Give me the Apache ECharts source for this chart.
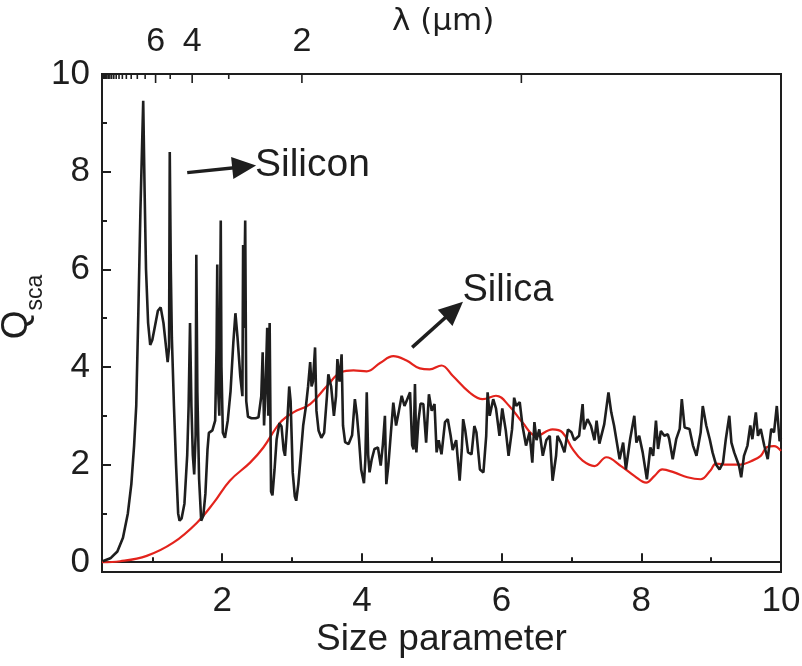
<!DOCTYPE html>
<html lang="en">
<head>
  <meta charset="UTF-8">
  <title>Qsca vs size parameter</title>
  <style>
    html, body { margin: 0; padding: 0; background: #fff; }
    #chart { width: 802px; height: 666px; }
  </style>
</head>
<body>
  <div id="chart"></div>
  <script src="https://cdn.jsdelivr.net/npm/echarts@6/dist/echarts.min.js"></script>
  <script>
    // silicon sphere
    const siliconX = [
      0.29, 0.40, 0.50, 0.58, 0.65, 0.70, 0.74, 0.77, 0.80, 0.83, 0.87, 0.89, 0.91, 0.94, 0.97,
      1.00, 1.04, 1.08, 1.12, 1.16, 1.19, 1.22, 1.24, 1.25, 1.265, 1.28, 1.31, 1.34, 1.37, 1.39,
      1.42, 1.46, 1.50, 1.52, 1.54, 1.56, 1.58, 1.60, 1.62, 1.63, 1.645, 1.67, 1.70, 1.73, 1.76,
      1.79, 1.81, 1.86, 1.90, 1.92, 1.93, 1.94, 1.96, 1.98, 1.99, 2.01, 2.04, 2.08, 2.12, 2.16,
      2.19, 2.22, 2.26, 2.29, 2.30, 2.31, 2.33, 2.345, 2.37, 2.42, 2.48, 2.52, 2.56, 2.58, 2.60,
      2.62, 2.645, 2.66, 2.68, 2.70, 2.72, 2.75, 2.78, 2.82, 2.85, 2.88, 2.90, 2.93, 2.96, 2.98,
      3.01, 3.04, 3.06, 3.09, 3.12, 3.16, 3.20, 3.23, 3.26, 3.28, 3.30, 3.33, 3.35, 3.38, 3.42,
      3.46, 3.50, 3.52, 3.56, 3.60, 3.63, 3.65, 3.68, 3.71, 3.73, 3.76, 3.81, 3.86, 3.90, 3.93,
      3.96, 3.99, 4.03, 4.05, 4.07, 4.09, 4.11, 4.14, 4.18, 4.23, 4.27, 4.30, 4.33, 4.35, 4.38,
      4.41, 4.45, 4.49, 4.53, 4.57, 4.61, 4.65, 4.69, 4.72, 4.74, 4.76, 4.78, 4.81, 4.84, 4.88,
      4.92, 4.96, 5.00, 5.04, 5.07, 5.10, 5.14, 5.19, 5.23, 5.27, 5.30, 5.35, 5.38, 5.40, 5.43,
      5.45, 5.48, 5.52, 5.57, 5.61, 5.64, 5.69, 5.74, 5.78, 5.80, 5.83, 5.88, 5.92, 5.97, 6.01,
      6.06, 6.10, 6.15, 6.18, 6.21, 6.26, 6.30, 6.35, 6.40, 6.44, 6.47, 6.50, 6.54, 6.59, 6.64,
      6.69, 6.73, 6.78, 6.80, 6.85, 6.90, 6.95, 7.00, 7.04, 7.11, 7.16, 7.18, 7.23, 7.28, 7.33,
      7.36, 7.40, 7.47, 7.53, 7.57, 7.61, 7.69, 7.74, 7.78, 7.84, 7.90, 7.93, 7.97, 8.02, 8.08,
      8.13, 8.17, 8.21, 8.24, 8.28, 8.33, 8.38, 8.40, 8.45, 8.50, 8.55, 8.58, 8.62, 8.69, 8.74,
      8.79, 8.85, 8.88, 8.93, 8.98, 9.02, 9.07, 9.12, 9.17, 9.21, 9.26, 9.29, 9.33, 9.40, 9.43,
      9.47, 9.52, 9.56, 9.59, 9.64, 9.67, 9.71, 9.76, 9.81, 9.86, 9.90, 9.94, 9.98, 10.0
    ];
    const siliconQ = [
      0.02, 0.08, 0.22, 0.50, 1.00, 1.60, 2.40, 3.20, 5.10, 7.20, 9.45, 7.60, 6.00, 4.90, 4.45,
      4.55, 4.85, 5.15, 5.22, 4.90, 4.50, 4.10, 4.40, 8.40, 6.00, 4.60, 3.20, 2.00, 1.00, 0.85,
      0.90, 1.20, 2.20, 3.20, 4.90, 3.20, 2.20, 1.80, 2.60, 6.30, 3.50, 1.70, 0.85, 0.95, 1.40,
      2.30, 2.65, 2.70, 2.90, 4.40, 6.10, 3.60, 3.00, 7.00, 4.00, 2.65, 2.55, 2.90, 3.50, 4.50,
      5.10, 4.60, 3.80, 3.40, 6.50, 4.80, 7.00, 3.30, 2.98, 2.95, 2.95, 2.97, 3.40, 4.30, 2.80,
      3.50, 4.80, 3.00, 4.90, 1.45, 1.37, 1.90, 2.52, 2.85, 2.78, 2.30, 2.18, 2.80, 3.60, 3.30,
      1.84, 1.35, 1.26, 1.60, 2.10, 2.80, 3.20, 3.60, 4.10, 3.60, 3.70, 4.40, 3.10, 2.70, 2.55,
      2.65, 3.40, 3.85, 3.60, 3.00, 3.40, 4.16, 3.70, 4.26, 2.80, 2.46, 2.42, 2.60, 3.34, 3.00,
      2.50, 1.90, 1.62, 2.10, 3.48, 2.20, 1.84, 2.10, 2.32, 2.35, 1.98, 2.40, 3.00, 1.60, 2.00,
      2.55, 3.27, 2.80, 3.10, 3.41, 3.20, 3.34, 3.48, 2.40, 2.31, 3.65, 2.25, 2.90, 3.25, 3.24,
      2.45, 3.44, 3.10, 3.24, 2.25, 2.50, 2.21, 2.87, 2.93, 2.60, 2.30, 2.50, 2.00, 1.67, 2.30,
      2.93, 2.70, 2.25, 2.21, 2.79, 2.66, 1.90, 1.84, 2.59, 3.48, 3.00, 3.34, 3.15, 2.59, 3.15,
      2.70, 2.18, 2.72, 3.37, 3.20, 3.28, 2.79, 2.39, 2.66, 2.04, 2.87, 2.50, 2.72, 2.18, 2.50,
      2.59, 1.67, 2.18, 2.59, 2.45, 2.25, 2.72, 2.66, 2.50, 2.59, 3.24, 2.72, 2.93, 2.79, 2.50,
      2.90, 2.43, 2.83, 3.48, 3.07, 2.80, 2.11, 2.45, 1.90, 2.52, 3.00, 2.45, 2.59, 2.25, 1.70,
      2.35, 2.18, 2.90, 2.32, 2.69, 2.59, 2.62, 2.52, 2.11, 2.52, 2.73, 3.34, 2.76, 2.73, 2.39,
      2.18, 2.66, 3.20, 2.80, 2.52, 2.25, 2.00, 1.90, 2.04, 2.52, 3.00, 2.45, 2.25, 1.97, 1.74,
      2.18, 2.39, 2.80, 2.52, 3.07, 2.59, 2.73, 2.39, 2.11, 2.73, 2.66, 3.20, 2.48, 2.55
    ];

    // silica sphere
    const silicaX = [
      0.28, 0.54, 0.92, 1.30, 1.64, 1.88, 2.11, 2.40, 2.59, 2.83, 3.02, 3.26, 3.50, 3.70, 3.88,
      4.07, 4.26, 4.45, 4.64, 4.83, 4.97, 5.14, 5.30, 5.54, 5.73, 5.92, 6.11, 6.30, 6.50, 6.73,
      6.87, 7.02, 7.16, 7.33, 7.50, 7.71, 7.90, 8.07, 8.19, 8.30, 8.47, 8.66, 8.85, 8.99, 9.07,
      9.23, 9.42, 9.57, 9.71, 9.80, 9.90, 10.0
    ];
    const silicaQ = [
      0.00, 0.02, 0.13, 0.40, 0.81, 1.22, 1.67, 2.04, 2.35, 2.86, 3.07, 3.24, 3.61, 3.89, 3.93,
      3.91, 4.08, 4.22, 4.13, 3.97, 3.95, 4.03, 3.82, 3.48, 3.34, 3.41, 3.20, 2.86, 2.59, 2.72,
      2.66, 2.31, 2.08, 1.97, 2.15, 1.97, 1.77, 1.63, 1.77, 1.90, 1.84, 1.74, 1.70, 1.88, 2.02,
      2.00, 2.00, 2.07, 2.18, 2.36, 2.38, 2.28
    ];

    // top axis: wavelength in um, size parameter = 2*pi/lambda
    const lambdaTicks = [1, 2, 3, 4, 5, 6, 7, 8, 9, 10, 11, 12, 13, 14, 15, 16, 17, 18, 19, 20, 21, 22];
    const lambdaLabels = [2, 4, 6];

    const FONT = '"Liberation Sans", Arial, sans-serif';
    const INK = '#1e1e1e';

    const zip = (xs, ys) => xs.map((x, i) => [x, ys[i]]);

    const chart = echarts.init(document.getElementById('chart'));

    const arrowLine = (from, to) => ({
      silent: true, symbol: ['none', 'triangle'], symbolSize: [22, 24],
      label: { show: false },
      lineStyle: { color: INK, width: 3.5, type: 'solid', opacity: 1 },
      itemStyle: { color: INK },
      data: [[{ coord: from }, { coord: to }]]
    });
    const note = (text, at, size) => ({
      silent: true, symbol: 'circle', symbolSize: 0,
      label: { show: true, position: 'right', distance: 0, formatter: text,
               fontFamily: FONT, fontSize: size, color: INK },
      data: [{ coord: at }]
    });

    chart.setOption({
      animation: false,
      backgroundColor: '#fff',
      grid: {
        left: 102, right: 21, top: 74, bottom: 94,
        containLabel: false, outerBoundsMode: 'none',
        show: true, borderColor: INK, borderWidth: 2, backgroundColor: 'transparent'
      },
      xAxis: {
        type: 'value', min: 0.28, max: 10, splitNumber: 5,
        name: 'Size parameter', nameLocation: 'middle', nameGap: 49, nameMoveOverlap: false,
        nameTextStyle: { fontFamily: FONT, fontSize: 37, color: INK },
        axisLine: { lineStyle: { color: INK, width: 2 } },
        axisTick: { inside: true, length: 9, lineStyle: { color: INK, width: 2 } },
        minorTick: { show: true, splitNumber: 2, length: 5, lineStyle: { color: INK, width: 2 } },
        axisLabel: { showMinLabel: false, fontFamily: FONT, fontSize: 35, color: INK, margin: 12 },
        splitLine: { show: false }
      },
      yAxis: {
        type: 'value', min: -0.2, max: 10, splitNumber: 5,
        name: '{q|Q}{s|sca}', nameLocation: 'middle', nameGap: 55, nameMoveOverlap: false,
        nameTextStyle: {
          padding: [0, 0, 0, 32],
          rich: {
            q: { fontFamily: FONT, fontSize: 37, color: INK, padding: [0, 0, 12, 0], verticalAlign: 'bottom' },
            s: { fontFamily: FONT, fontSize: 23, color: INK, verticalAlign: 'bottom' }
          }
        },
        axisLine: { lineStyle: { color: INK, width: 2 } },
        axisTick: { inside: true, length: 9, lineStyle: { color: INK, width: 2 } },
        minorTick: { show: true, splitNumber: 2, length: 5, lineStyle: { color: INK, width: 2 } },
        axisLabel: { showMinLabel: false, fontFamily: FONT, fontSize: 35, color: INK, margin: 12 },
        splitLine: { show: false }
      },
      graphic: [{
        type: 'text', left: 392, top: 6,
        style: { text: 'λ (μm)', font: '31px "DejaVu Sans", sans-serif', fill: INK }
      }],
      series: [
        {
          name: 'Silica', type: 'line', data: zip(silicaX, silicaQ),
          showSymbol: false, smooth: 0.4,
          lineStyle: { color: '#e3231c', width: 2.2 },
          markLine: arrowLine([4.72, 4.40], [5.32, 5.17]),
          markPoint: note('Silica', [5.44, 5.56], 38)
        },
        {
          name: 'Silicon', type: 'line', data: zip(siliconX, siliconQ),
          showSymbol: false, smooth: false,
          lineStyle: { color: INK, width: 2.6 },
          markLine: arrowLine([1.50, 7.98], [2.315, 8.10]),
          markPoint: note('Silicon', [2.47, 8.14], 39)
        },
        {
          // wavelength ticks on the top edge
          type: 'custom', silent: true, clip: false,
          data: lambdaTicks.map(l => [2 * Math.PI / l, 10, l]),
          encode: { x: 0, y: 1 },
          renderItem: (params, api) => {
            const p = api.coord([api.value(0), 10]);
            const l = api.value(2);
            const labelled = lambdaLabels.indexOf(l) >= 0;
            const len = (labelled || l === 1) ? 9 : 5;
            const children = [{
              type: 'line',
              shape: { x1: p[0], y1: p[1], x2: p[0], y2: p[1] + len },
              style: { stroke: INK, lineWidth: 1.6 }
            }];
            if (labelled) {
              children.push({
                type: 'text',
                style: { text: String(l), x: p[0], y: p[1] - 15, align: 'center', verticalAlign: 'bottom',
                         font: '34px ' + FONT, fill: INK }
              });
            }
            return { type: 'group', children };
          }
        }
      ]
    });
  </script>
</body>
</html>
